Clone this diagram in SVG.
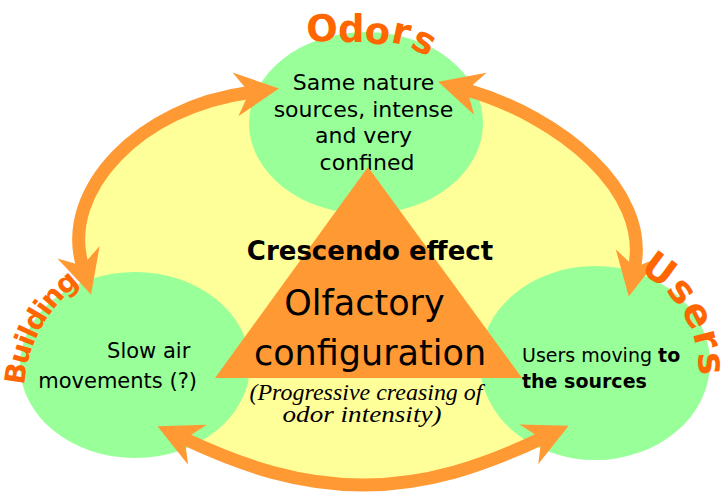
<svg xmlns="http://www.w3.org/2000/svg" width="727" height="492" viewBox="0 0 727 492">
<style>
.comic{font-family:"Comic Sans MS","DejaVu Sans",sans-serif;fill:#000}
.label{font-family:"Comic Sans MS","DejaVu Sans",sans-serif;font-weight:bold;fill:#FF6600}
.blob{fill:#99FF99}
.conn{fill:none;stroke:#FF9933;stroke-width:13;marker-start:url(#head);marker-end:url(#head)}
.ital{font-family:"Liberation Serif","Times New Roman",serif;font-style:italic;font-size:24px;fill:#000;text-anchor:middle}
</style>
<defs>
<marker id="head" viewBox="-2 -25 50 50" refX="14" refY="0" markerWidth="50" markerHeight="50" markerUnits="userSpaceOnUse" orient="auto-start-reverse" overflow="visible">
<path d="M44,0 L0,-22 L14,0 L0,22 Z" fill="#FF9933"/>
</marker>
<path id="arc-users" d="M 614.5 261.9 A 114 114 0 0 1 688.3 420.2"/>
<path id="arc-building" d="M 26.1 419.1 A 139 139 0 0 1 115.5 264.4"/>
</defs>
<g id="background">
<path d="M 249.3 92.5 C 140 107, 60 190, 82.5 265.7 L 110 330 L 184.7 438.9 C 245 467, 300 485, 363 485 C 426 485, 481 467, 541.5 438.5 L 600 330 L 634.6 267.2 C 650 190, 560 117, 467 90 L 366 140 Z" fill="#FFFF99"/>
</g>
<g id="node-odors">
<ellipse class="blob" cx="366" cy="123" rx="117" ry="91"/>
<text class="comic" font-size="22" text-anchor="middle">
<tspan x="367" y="90">Same nature</tspan>
<tspan x="367" y="117">sources, intense</tspan>
<tspan x="367" y="143">and very</tspan>
<tspan x="367" y="170">confined</tspan>
</text>
</g>
<g id="node-building">
<ellipse class="blob" cx="135" cy="365" rx="115" ry="93"/>
<text class="comic" font-size="21" text-anchor="end">
<tspan x="197" y="358">Slow air</tspan>
<tspan x="197" y="388">movements (?)</tspan>
</text>
</g>
<g id="node-users">
<ellipse class="blob" cx="595" cy="363" rx="115" ry="97"/>
<text class="comic" font-size="19">
<tspan x="522" y="362">Users moving <tspan font-weight="bold">to</tspan></tspan>
<tspan x="522" y="388" font-weight="bold">the sources</tspan>
</text>
</g>
<g id="node-center">
<polygon points="368,167 215,378 522,378" fill="#FF9933"/>
<text class="comic" font-size="26" font-weight="bold" text-anchor="middle" x="370" y="260">Crescendo effect</text>
<text class="comic" font-size="35" text-anchor="middle">
<tspan x="370" y="315">Olfactory</tspan>
<tspan x="370" y="365">configuration</tspan>
</text>
<text class="ital" x="366" y="400" textLength="233" lengthAdjust="spacingAndGlyphs">(Progressive creasing of</text>
<text class="ital" x="362" y="422" textLength="159" lengthAdjust="spacingAndGlyphs">odor intensity)</text>
</g>
<g id="connectors">
<path class="conn" d="M 249.3 92.5 C 140 107, 60 190, 82.5 265.7"/>
<path class="conn" d="M 467 90 C 560 117, 650 190, 634.6 267.2"/>
<path class="conn" d="M 184.7 438.9 C 245 467, 300 485, 363 485 C 426 485, 481 467, 541.5 438.5"/>
</g>
<g id="labels">
<text class="label" font-size="37" x="307 338 364 390 409" y="42 42 43 42 47" rotate="-3 0 4 12 27">Odors</text>
<text class="label" font-size="38" letter-spacing="1.5"><textPath href="#arc-users" startOffset="26">Users</textPath></text>
<text class="label" font-size="28" letter-spacing="-1.5"><textPath href="#arc-building" startOffset="34">Building</textPath></text>
</g>
</svg>
